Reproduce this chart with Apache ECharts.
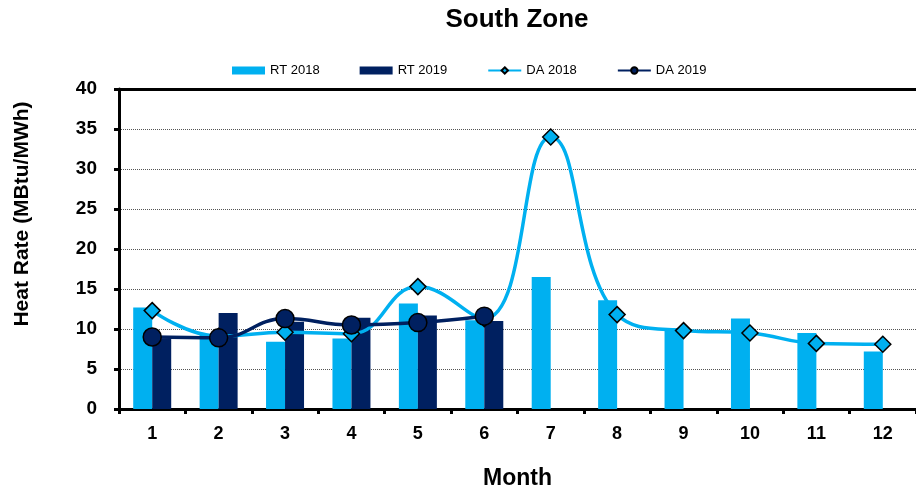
<!DOCTYPE html>
<html>
<head>
<meta charset="utf-8">
<script src="https://cdn.jsdelivr.net/npm/echarts@6/dist/echarts.min.js"></script>
<style>html,body{margin:0;padding:0;background:#fff}#c{width:916px;height:495px}</style>
</head>
<body>
<div id="c"></div>
<script>
const months = ['1','2','3','4','5','6','7','8','9','10','11','12'];
const rt2018 = [12.7, 9.4, 8.4, 8.8, 13.2, 11.1, 16.5, 13.6, 10.1, 11.3, 9.5, 7.2];
const rt2019 = [8.8, 12.0, 10.9, 11.4, 11.7, 11.0, null, null, null, null, null, null];
const da2018 = [12.3, 9.1, 9.6, 9.4, 15.3, 11.3, 34.0, 11.8, 9.8, 9.5, 8.2, 8.1];
const da2019 = [9.0, 8.9, 11.3, 10.5, 10.8, 11.6, null, null, null, null, null, null];
const yTicks = [0, 5, 10, 15, 20, 25, 30, 35, 40];

const FONT = 'Arial, "Liberation Sans", sans-serif';
const LIGHT = '#00B0F0';
const DARK = '#002060';
const chart = echarts.init(document.getElementById('c'), null, {renderer: 'canvas'});
chart.setOption({
  animation: false,
  textStyle: {fontFamily: FONT},
  title: {
    text: 'South Zone', left: 512, textAlign: 'center', top: 2,
    textStyle: {fontFamily: FONT, fontSize: 26, fontWeight: 'bold', color: '#000'}
  },
  graphic: [{
    type: 'text', x: 22, y: 214, rotation: Math.PI / 2,
    style: {text: 'Heat Rate (MBtu/MWh)', fontFamily: FONT, fontSize: 21, fontWeight: 'bold',
            fill: '#000', textAlign: 'center', textVerticalAlign: 'middle'}
  }],
  legend: {
    top: 59, left: 227, itemGap: 40, itemWidth: 33, itemHeight: 8,
    textStyle: {fontFamily: FONT, fontSize: 13, color: '#000'},
    data: [
      {name: 'RT 2018', icon: 'rect'},
      {name: 'RT 2019', icon: 'rect'},
      {name: 'DA 2018'},
      {name: 'DA 2019'}
    ]
  },
  grid: {left: 119, right: 0, top: 89, bottom: 82},
  xAxis: [{
    type: 'category', data: months, boundaryGap: true,
    name: 'Month', nameLocation: 'middle', nameGap: 58,
    nameTextStyle: {fontFamily: FONT, fontSize: 23, fontWeight: 'bold', color: '#000'},
    axisLine: {lineStyle: {color: '#000', width: 3}},
    axisTick: {show: true, length: 5, lineStyle: {color: '#000', width: 3}},
    axisLabel: {margin: 16, fontFamily: FONT, fontSize: 18, fontWeight: 'bold', color: '#000'}
  }, {
    type: 'category', data: months, position: 'top',
    axisLine: {show: true, lineStyle: {color: '#000', width: 3}},
    axisTick: {show: false}, axisLabel: {show: false}
  }],
  yAxis: {
    type: 'value', min: yTicks[0], max: yTicks[yTicks.length - 1], interval: 5,
    axisLine: {show: true, lineStyle: {color: '#000', width: 3}},
    axisTick: {show: true, length: 5, lineStyle: {color: '#000', width: 3}},
    axisLabel: {margin: 22, fontFamily: FONT, fontSize: 19, fontWeight: 'bold', color: '#000'},
    splitLine: {show: true, lineStyle: {color: '#555', type: 'dotted', width: 1}}
  },
  series: [
    {name: 'RT 2018', type: 'bar', data: rt2018, barWidth: 19, barGap: '0%',
     itemStyle: {color: LIGHT}},
    {name: 'RT 2019', type: 'bar', data: rt2019, barWidth: 19, barGap: '0%',
     itemStyle: {color: DARK}},
    {name: 'DA 2018', type: 'line', data: da2018, smooth: 0.45,
     symbol: 'diamond', symbolSize: 16,
     lineStyle: {color: LIGHT, width: 3.5},
     itemStyle: {color: LIGHT, borderColor: '#000', borderWidth: 1.5}},
    {name: 'DA 2019', type: 'line', data: da2019, smooth: 0.45,
     symbol: 'circle', symbolSize: 18,
     lineStyle: {color: DARK, width: 3.5},
     itemStyle: {color: DARK, borderColor: '#000', borderWidth: 1.5}}
  ]
});
</script>
</body>
</html>
